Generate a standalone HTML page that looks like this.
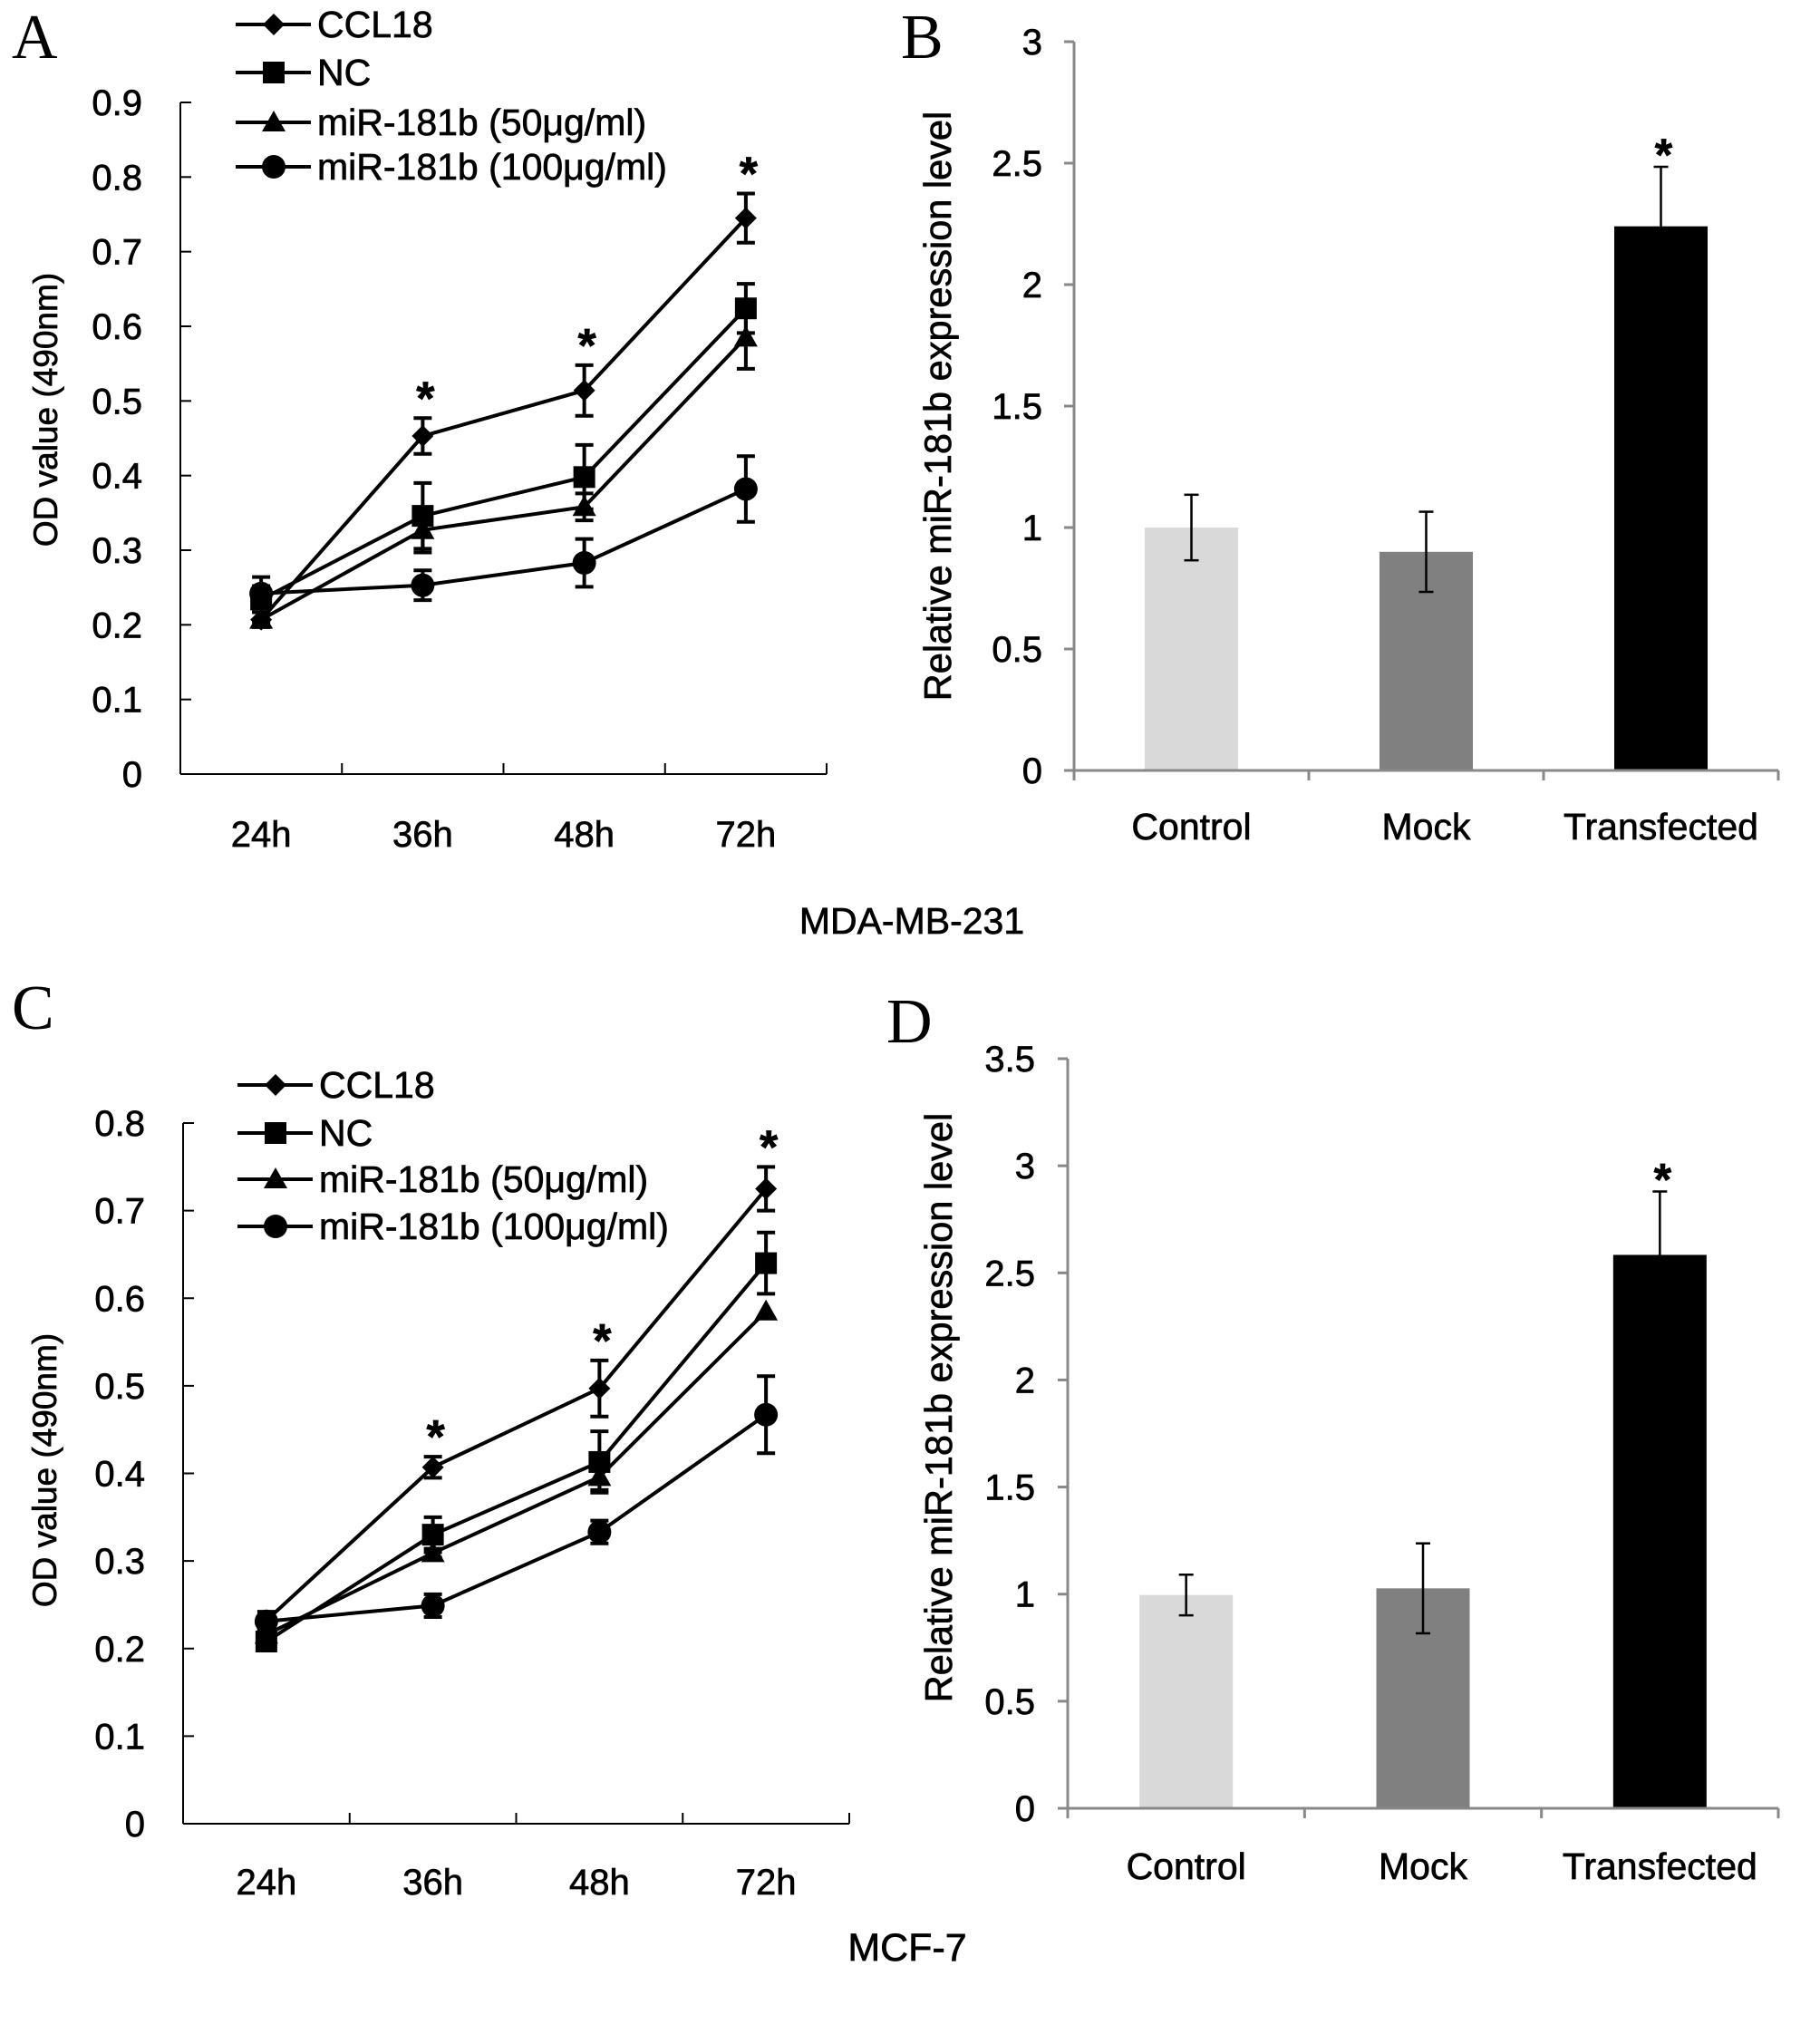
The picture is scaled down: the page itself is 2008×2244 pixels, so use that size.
<!DOCTYPE html>
<html><head><meta charset="utf-8"><style>
html,body{margin:0;padding:0;background:#fff;}
svg{display:block;font-family:"Liberation Sans",Arial,sans-serif;}
svg text{stroke:#000;stroke-width:0.7px;}
</style></head><body>
<svg id="fig" width="2008" height="2244" viewBox="0 0 2008 2244" xmlns="http://www.w3.org/2000/svg">
<rect width="2008" height="2244" fill="#fff"/>
<text x="13" y="64" font-family="Liberation Serif,serif" font-size="70" style="stroke-width:0">A</text>
<text x="994" y="64" font-family="Liberation Serif,serif" font-size="70" style="stroke-width:0">B</text>
<text x="13" y="1135" font-family="Liberation Serif,serif" font-size="70" style="stroke-width:0">C</text>
<text x="978" y="1150" font-family="Liberation Serif,serif" font-size="70" style="stroke-width:0">D</text>
<text x="1006" y="1030" font-size="41" text-anchor="middle">MDA-MB-231</text>
<text x="1001" y="2163" font-size="43" text-anchor="middle">MCF-7</text>
</svg>
<script>
// ---------- data ----------
const timeCats = ["24h","36h","48h","72h"];
const seriesNames = ["CCL18","NC","miR-181b (50μg/ml)","miR-181b (100μg/ml)"];
const markers = ["diamond","square","triangle","circle"];
// Panel A (MDA-MB-231)
const aCCL18 = [0.207,0.453,0.514,0.745];
const aCCL18Err = [0.01,0.024,0.034,0.033];
const aNC = [0.234,0.346,0.398,0.624];
const aNCErr = [0.03,0.044,0.043,0.033];
const aMiR50 = [0.207,0.327,0.358,0.585];
const aMiR50Err = [0.01,0.03,0.018,0.042];
const aMiR100 = [0.242,0.253,0.283,0.382];
const aMiR100Err = [0.01,0.02,0.032,0.044];
const aStars = [false,true,true,true];
const aTicks = ["0","0.1","0.2","0.3","0.4","0.5","0.6","0.7","0.8","0.9"];
// Panel C (MCF-7)
const cCCL18 = [0.232,0.407,0.497,0.725];
const cCCL18Err = [0.01,0.012,0.032,0.025];
const cNC = [0.208,0.330,0.413,0.640];
const cNCErr = [0.01,0.02,0.035,0.035];
const cMiR50 = [0.216,0.309,0.396,0.585];
const cMiR50Err = [0.005,0.005,0.015,0.0];
const cMiR100 = [0.231,0.249,0.333,0.467];
const cMiR100Err = [0.005,0.013,0.013,0.044];
const cStars = [false,true,true,true];
const cTicks = ["0","0.1","0.2","0.3","0.4","0.5","0.6","0.7","0.8"];
// Bar panels
const barCats = ["Control","Mock","Transfected"];
const barColors = ["#d9d9d9","#808080","#000000"];
const bValues = [1.0,0.9,2.24];
const bErrs = [0.135,0.165,0.245];
const bStars = [false,false,true];
const bTicks = ["0","0.5","1","1.5","2","2.5","3"];
const dValues = [0.996,1.027,2.584];
const dErrs = [0.095,0.21,0.296];
const dStars = [false,false,true];
const dTicks = ["0","0.5","1","1.5","2","2.5","3","3.5"];

const NS="http://www.w3.org/2000/svg";
const svg=document.getElementById('fig');
function mk(tag,attrs,parent){const e=document.createElementNS(NS,tag);for(const k in attrs)e.setAttribute(k,attrs[k]);(parent||svg).appendChild(e);return e;}

function marker(g,type,x,y){
  let e;
  if(type==="diamond") e=mk('polygon',{points:`${x},${y-12} ${x+12},${y} ${x},${y+12} ${x-12},${y}`,fill:'#000'},g);
  else if(type==="square") e=mk('rect',{x:x-12,y:y-12,width:24,height:24,fill:'#000'},g);
  else if(type==="triangle") e=mk('polygon',{points:`${x},${y-13} ${x+13},${y+10} ${x-13},${y+10}`,fill:'#000'},g);
  else e=mk('circle',{cx:x,cy:y,r:13,fill:'#000'},g);
  return e;
}

function linePanel(p){
  const g=mk('g',{});
  
  
  const n=p.ticks.length-1, max=p.max;
  const yS=v=>p.y0-(v/max)*(p.y0-p.yTop);
  const step=(p.xR-p.xL)/timeCats.length;
  const xS=i=>p.xL+step*(i+0.5);
  const ax=mk('line',{x1:p.xL,y1:p.yTop,x2:p.xL,y2:p.y0,stroke:'#000','stroke-width':2},g);
  
  
  const bx=mk('line',{x1:p.xL,y1:p.y0,x2:p.xR,y2:p.y0,stroke:'#000','stroke-width':2},g);
  
  
  p.ticks.forEach((t,i)=>{
    const v=max*i/n, y=yS(v);
    mk('line',{x1:p.xL,y1:y,x2:p.xL+12,y2:y,stroke:'#000','stroke-width':2},g);
    const tx=mk('text',{x:p.xL-42,y:y+14,'font-size':40,'text-anchor':'end'},g);
    tx.textContent=t;
    
    
  });
  for(let i=1;i<=timeCats.length;i++){const x=p.xL+step*i;mk('line',{x1:x,y1:p.y0,x2:x,y2:p.y0-12,stroke:'#000','stroke-width':2},g);}
  timeCats.forEach((c,i)=>{
    const tx=mk('text',{x:xS(i),y:p.labY,'font-size':40,'text-anchor':'middle'},g);
    tx.textContent=c;
    
    
  });
  const yt=mk('text',{transform:`translate(${p.ytX},${p.ytY}) rotate(-90)`,'font-size':37,'text-anchor':'middle'},g);
  yt.textContent="OD value (490nm)";
  
  
  p.series.forEach((s,k)=>{
    const sg=mk('g',{},g);
    
    
    const pts=s.v.map((v,i)=>`${xS(i)},${yS(v)}`).join(' ');
    mk('polyline',{points:pts,fill:'none',stroke:'#000','stroke-width':4},sg);
    s.v.forEach((v,i)=>{
      const x=xS(i),e=s.e[i];
      if(e>0){
        const y1=yS(v+e),y2=yS(v-e);
        mk('line',{x1:x,y1:y1,x2:x,y2:y2,stroke:'#000','stroke-width':4},sg);
        mk('line',{x1:x-10,y1:y1,x2:x+10,y2:y1,stroke:'#000','stroke-width':4},sg);
        mk('line',{x1:x-10,y1:y2,x2:x+10,y2:y2,stroke:'#000','stroke-width':4},sg);
      }
      const m=marker(sg,markers[k],x,yS(v));
      
      
    });
  });
  p.stars.forEach((st,i)=>{
    if(!st)return;
    const top=p.series[0].v[i]+p.series[0].e[i];
    const tx=mk('text',{x:xS(i)+3,y:yS(top)-4,'font-size':52,'font-weight':'bold','text-anchor':'middle'},g);
    tx.textContent="*";
    
    
  });
  seriesNames.forEach((nm,k)=>{
    const ly=p.legY[k];
    const lg=mk('g',{},g);
    
    
    mk('line',{x1:p.legX,y1:ly,x2:p.legX+83,y2:ly,stroke:'#000','stroke-width':4},lg);
    marker(lg,markers[k],p.legX+42,ly);
    const tx=mk('text',{x:p.legX+90,y:ly+14,'font-size':41},lg);
    tx.textContent=nm;
  });
}

function barPanel(p){
  const g=mk('g',{});
  
  
  const n=p.ticks.length-1,max=p.max;
  const yS=v=>p.y0-(v/max)*(p.y0-p.yTop);
  const step=(p.xR-p.xL)/barCats.length;
  const xS=i=>p.xL+step*(i+0.5);
  const ax=mk('line',{x1:p.xL,y1:p.yTop,x2:p.xL,y2:p.y0,stroke:'#888','stroke-width':3},g);
  
  
  p.ticks.forEach((t,i)=>{
    const y=yS(max*i/n);
    mk('line',{x1:p.xL-11,y1:y,x2:p.xL,y2:y,stroke:'#888','stroke-width':3},g);
    const tx=mk('text',{x:p.tickX,y:y+14,'font-size':40,'text-anchor':'end'},g);
    tx.textContent=t;
    
    
  });
  barCats.forEach((c,i)=>{
    const v=p.vals[i],e=p.errs[i],x=xS(i),w=103;
    const r=mk('rect',{x:x-w/2,y:yS(v),width:w,height:p.y0-yS(v),fill:barColors[i]},g);
    
    
    const y1=yS(v+e),y2=yS(v-e);
    mk('line',{x1:x,y1:y1,x2:x,y2:y2,stroke:'#000','stroke-width':2.5},g);
    mk('line',{x1:x-8,y1:y1,x2:x+8,y2:y1,stroke:'#000','stroke-width':2.5},g);
    mk('line',{x1:x-8,y1:y2,x2:x+8,y2:y2,stroke:'#000','stroke-width':2.5},g);
    if(p.stars[i]){
      const st=mk('text',{x:x+3,y:y1+4,'font-size':50,'font-weight':'bold','text-anchor':'middle'},g);
      st.textContent="*";
      
      
    }
    const tx=mk('text',{x:x,y:p.labY,'font-size':41,'text-anchor':'middle'},g);
    tx.textContent=c;
    
    
  });
  const bx=mk('line',{x1:p.xL,y1:p.y0,x2:p.xR,y2:p.y0,stroke:'#888','stroke-width':3},g);
  
  
  for(let i=0;i<=barCats.length;i++){const x=p.xL+step*i;mk('line',{x1:x,y1:p.y0,x2:x,y2:p.y0+11,stroke:'#888','stroke-width':3},g);}
  const yt=mk('text',{transform:`translate(${p.ytX},${p.ytY}) rotate(-90)`,'font-size':41.5,'text-anchor':'middle'},g);
  yt.textContent="Relative miR-181b expression level";
  
  
}

linePanel({name:'chart-a',xL:199,xR:912,y0:854,yTop:113,max:0.9,ticks:aTicks,labY:934,ytX:63,ytY:452,
  series:[{v:aCCL18,e:aCCL18Err},{v:aNC,e:aNCErr},{v:aMiR50,e:aMiR50Err},{v:aMiR100,e:aMiR100Err}],
  stars:aStars,legX:260,legY:[27,80,135,184]});
linePanel({name:'chart-c',xL:202,xR:937,y0:2012,yTop:1239,max:0.8,ticks:cTicks,labY:2090,ytX:62,ytY:1622,
  series:[{v:cCCL18,e:cCCL18Err},{v:cNC,e:cNCErr},{v:cMiR50,e:cMiR50Err},{v:cMiR100,e:cMiR100Err}],
  stars:cStars,legX:262,legY:[1197,1250,1301,1353]});
barPanel({name:'chart-b',xL:1185,xR:1962,y0:850,yTop:46,max:3,ticks:bTicks,vals:bValues,errs:bErrs,stars:bStars,labY:926,tickX:1150,ytX:1049,ytY:448});
barPanel({name:'chart-d',xL:1178,xR:1962,y0:1995,yTop:1168,max:3.5,ticks:dTicks,vals:dValues,errs:dErrs,stars:dStars,labY:2073,tickX:1142,ytX:1050,ytY:1553});
</script>
</body></html>
